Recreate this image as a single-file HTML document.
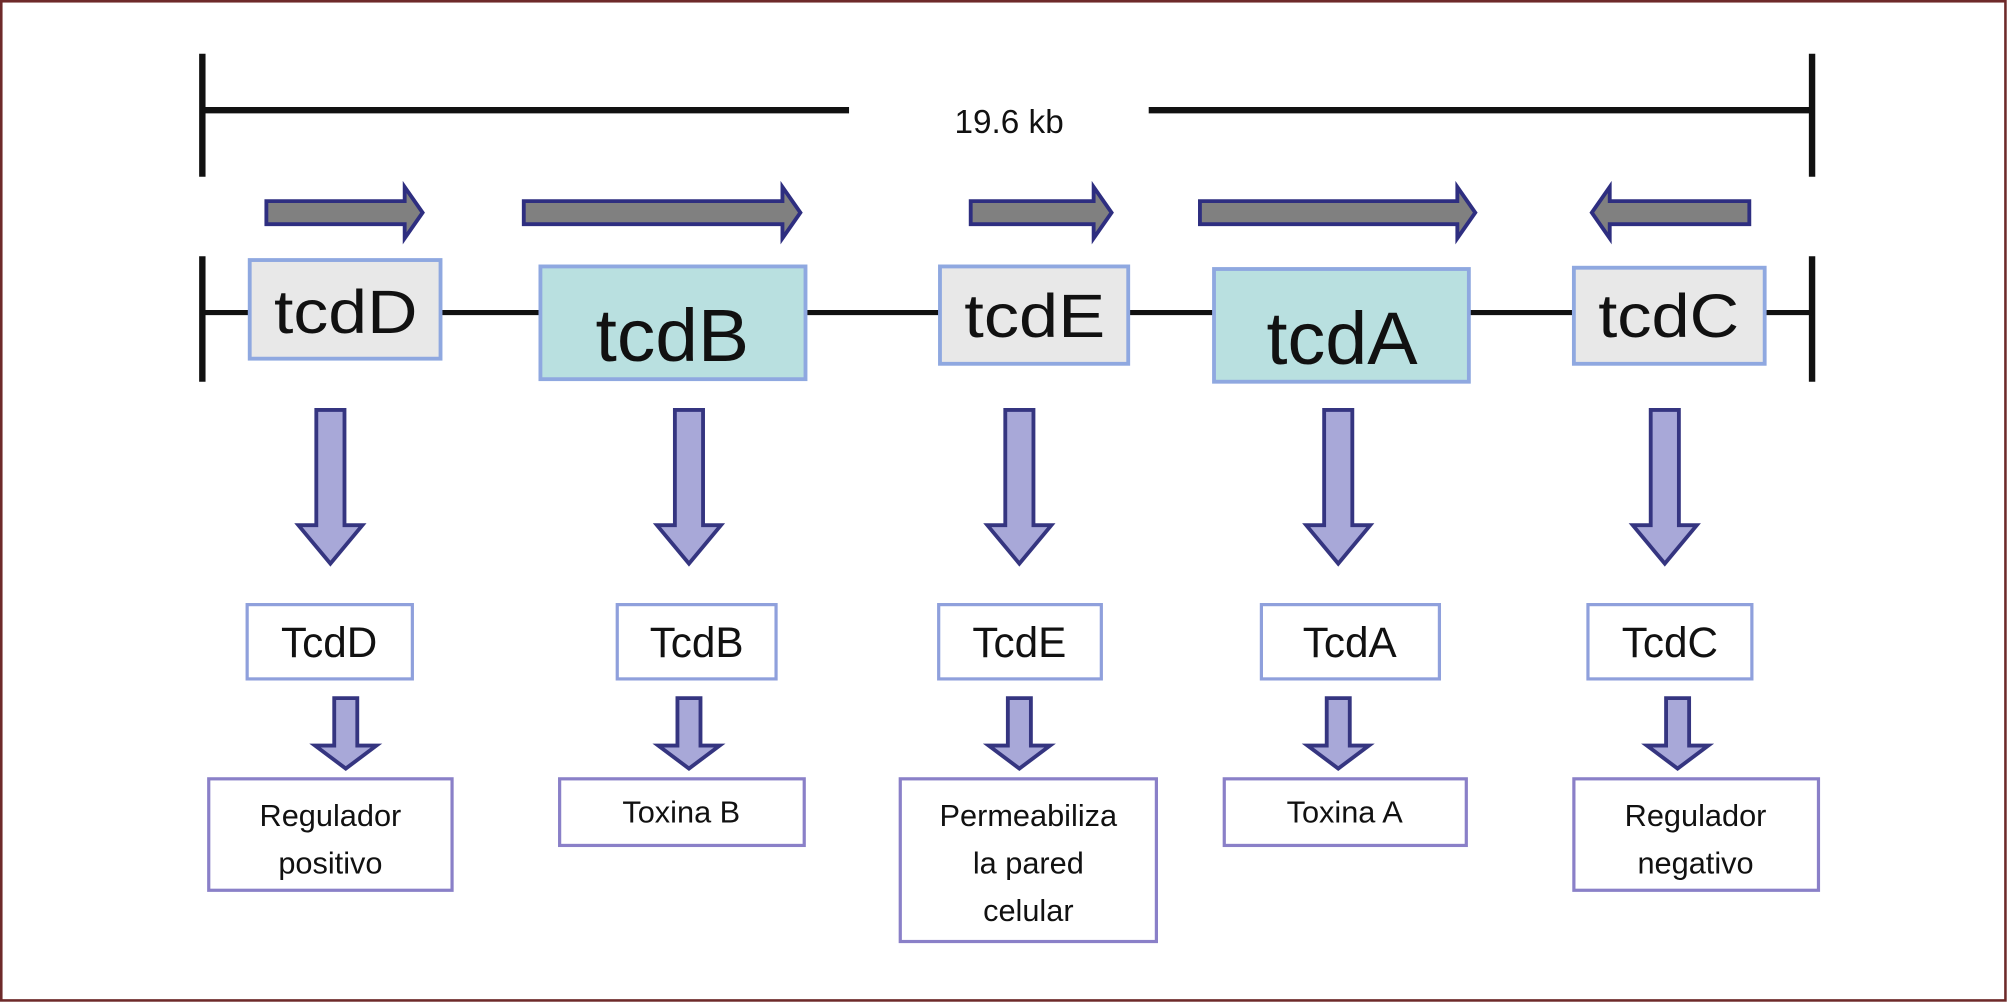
<!DOCTYPE html>
<html><head><meta charset="utf-8"><style>
html,body{margin:0;padding:0;background:#fff;}
svg{display:block;}
text{font-family:"Liberation Sans",Arial,sans-serif;fill:#111;}
</style></head><body>
<svg width="2008" height="1003" viewBox="0 0 1568 783" preserveAspectRatio="none" xmlns="http://www.w3.org/2000/svg">
<rect x="1" y="1" width="1565" height="780" fill="#fff" stroke="#6e2a2a" stroke-width="2"/>
<g stroke="#111" stroke-width="5" fill="none">
<line x1="158" y1="42" x2="158" y2="138"/>
<line x1="158" y1="86" x2="663" y2="86"/>
<line x1="897" y1="86" x2="1415" y2="86"/>
<line x1="1415" y1="42" x2="1415" y2="138"/>
<line x1="158" y1="200" x2="158" y2="298"/>
<line x1="1415" y1="200" x2="1415" y2="298"/>
<line x1="158" y1="244" x2="1415" y2="244" stroke-width="4"/>
</g>
<text x="788" y="104" font-size="26" text-anchor="middle">19.6 kb</text>
<g fill="#808080" stroke="#2e2e80" stroke-width="3" stroke-linejoin="miter">
<path d="M208 157 H316 V146 L330 166 L316 186 V175 H208 Z"/>
<path d="M409 157 H611 V146 L625 166 L611 186 V175 H409 Z"/>
<path d="M758 157 H854 V146 L868 166 L854 186 V175 H758 Z"/>
<path d="M937 157 H1138 V146 L1152 166 L1138 186 V175 H937 Z"/>
<path d="M1366 157 H1257 V146 L1243 166 L1257 186 V175 H1366 Z"/>
</g>
<g stroke="#8fa8e0" stroke-width="3">
<rect x="195" y="203" width="149" height="77" fill="#e8e8e8"/>
<rect x="422" y="208" width="207" height="88" fill="#b9e0e0"/>
<rect x="734" y="208" width="147" height="76" fill="#e8e8e8"/>
<rect x="948" y="210" width="199" height="88" fill="#b9e0e0"/>
<rect x="1229" y="209" width="149" height="75" fill="#e8e8e8"/>
</g>
<g font-size="48" text-anchor="middle">
<text x="270" y="260" textLength="112" lengthAdjust="spacingAndGlyphs">tcdD</text>
<text x="525" y="282" font-size="58" textLength="120" lengthAdjust="spacingAndGlyphs">tcdB</text>
<text x="808" y="263" textLength="110" lengthAdjust="spacingAndGlyphs">tcdE</text>
<text x="1048" y="284" font-size="58" textLength="118" lengthAdjust="spacingAndGlyphs">tcdA</text>
<text x="1303" y="263" textLength="110" lengthAdjust="spacingAndGlyphs">tcdC</text>
</g>
<g fill="#a8a8d8" stroke="#353580" stroke-width="3">
<path d="M247 320 H269 V410 H283 L258 440 L233 410 H247 Z"/>
<path d="M527 320 H549 V410 H563 L538 440 L513 410 H527 Z"/>
<path d="M785 320 H807 V410 H821 L796 440 L771 410 H785 Z"/>
<path d="M1034 320 H1056 V410 H1070 L1045 440 L1020 410 H1034 Z"/>
<path d="M1289 320 H1311 V410 H1325 L1300 440 L1275 410 H1289 Z"/>
<path d="M261 545 H279 V582 H294 L270 600 L246 582 H261 Z"/>
<path d="M529 545 H547 V582 H562 L538 600 L514 582 H529 Z"/>
<path d="M787 545 H805 V582 H820 L796 600 L772 582 H787 Z"/>
<path d="M1036 545 H1054 V582 H1069 L1045 600 L1021 582 H1036 Z"/>
<path d="M1301 545 H1319 V582 H1334 L1310 600 L1286 582 H1301 Z"/>
</g>
<g fill="#fff" stroke="#8fa0dc" stroke-width="2.5">
<rect x="193" y="472" width="129" height="58"/>
<rect x="482" y="472" width="124" height="58"/>
<rect x="733" y="472" width="127" height="58"/>
<rect x="985" y="472" width="139" height="58"/>
<rect x="1240" y="472" width="128" height="58"/>
</g>
<g font-size="33" text-anchor="middle">
<text x="257" y="513">TcdD</text>
<text x="544" y="513">TcdB</text>
<text x="796" y="513">TcdE</text>
<text x="1054" y="513">TcdA</text>
<text x="1304" y="513">TcdC</text>
</g>
<g fill="#fff" stroke="#8a80c8" stroke-width="2.5">
<rect x="163" y="608" width="190" height="87"/>
<rect x="437" y="608" width="191" height="52"/>
<rect x="703" y="608" width="200" height="127"/>
<rect x="956" y="608" width="189" height="52"/>
<rect x="1229" y="608" width="191" height="87"/>
</g>
<g font-size="24" text-anchor="middle">
<text x="258" y="645">Regulador</text>
<text x="258" y="682">positivo</text>
<text x="532" y="642">Toxina B</text>
<text x="803" y="645">Permeabiliza</text>
<text x="803" y="682">la pared</text>
<text x="803" y="719">celular</text>
<text x="1050" y="642">Toxina A</text>
<text x="1324" y="645">Regulador</text>
<text x="1324" y="682">negativo</text>
</g>
</svg>
</body></html>
